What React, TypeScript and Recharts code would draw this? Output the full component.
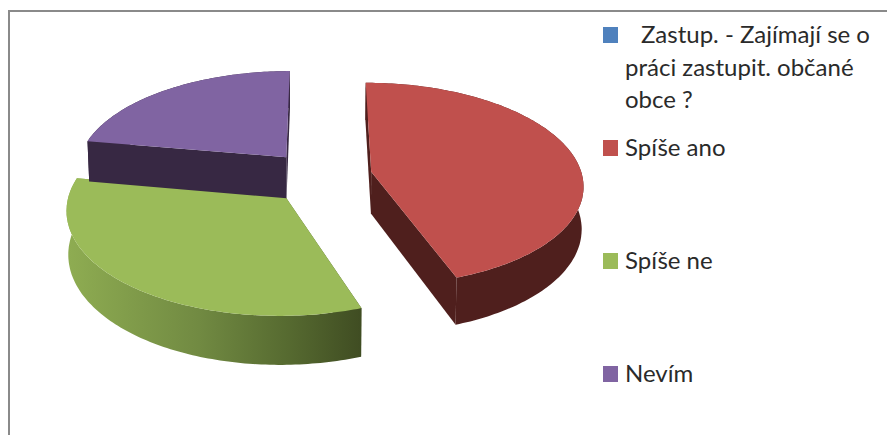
import { Legend, Pie, PieChart } from "recharts";

const categories = [
  "Zastup. - Zajímají se o práci zastupit. občané obce ?",
  "Spíše ano",
  "Spíše ne",
  "Nevím",
];
const shares = [0, 44.6, 33.1, 22.3];
const topColors = ["#4f81bd", "#c0504d", "#9bbb59", "#8064a2"];
const sideColors = ["#2a4466", "#4f1f1d", "url(#greenSide)", "#372843"];

const rows = categories.map((name, i) => ({
  name,
  value: shares[i],
  fill: topColors[i],
  side: sideColors[i],
}));

// fake 3D look: ground plane of the pie seen in perspective
const SQUASH = 0.477;
const PERSPECTIVE = 0.12;
const DEPTH = 42;
const EXPLODE = 0.25;

function project(cx: number, cy: number, r: number, px: number, pv: number, low: boolean) {
  const w = 1 - PERSPECTIVE * pv;
  const shrink = low ? 0.993 : 1;
  const x = cx + ((r * px) / w) * shrink;
  const y = cy + (r * SQUASH * pv) / w + (low ? DEPTH / w : 0);
  return `${x.toFixed(1)},${y.toFixed(1)}`;
}

function Slice3D(props: any) {
  const { cx, cy, outerRadius, startAngle, endAngle, fill, side } = props;
  if (startAngle === endAngle) return null;
  const from = ((90 - startAngle) * Math.PI) / 180;
  const to = ((90 - endAngle) * Math.PI) / 180;
  const mid = (from + to) / 2;
  const ox = EXPLODE * Math.sin(mid);
  const ov = -EXPLODE * Math.cos(mid);
  const steps = Math.ceil(Math.abs(endAngle - startAngle));
  const rimAngles = Array.from({ length: steps + 1 }, (_, i) => from + ((to - from) * i) / steps);
  const pt = (px: number, pv: number, low: boolean) => project(cx, cy, outerRadius, px, pv, low);
  const rim = (low: boolean) => rimAngles.map((a) => pt(ox + Math.sin(a), ov - Math.cos(a), low));
  const topRim = rim(false);
  const lowRim = rim(true);
  const apex = pt(ox, ov, false);
  const lowApex = pt(ox, ov, true);
  const last = topRim.length - 1;
  return (
    <g>
      <linearGradient id="greenSide" gradientUnits="userSpaceOnUse" x1={65} y1={0} x2={363} y2={0}>
        <stop offset="0%" stopColor="#8fad52" />
        <stop offset="45%" stopColor="#718a42" />
        <stop offset="75%" stopColor="#566a30" />
        <stop offset="100%" stopColor="#3f4c22" />
      </linearGradient>
      <polygon points={[...topRim, ...[...lowRim].reverse()].join(" ")} fill={side} />
      <polygon points={[apex, topRim[0], lowRim[0], lowApex].join(" ")} fill={side} />
      <polygon points={[apex, topRim[last], lowRim[last], lowApex].join(" ")} fill={side} />
      <polygon points={[apex, ...topRim].join(" ")} fill={fill} />
    </g>
  );
}

function LegendBox({ payload }: any) {
  return (
    <div style={{ position: "relative", width: 887, height: 435 }}>
      {(payload || []).map((entry: any, i: number) => (
        <div key={entry.value}>
          <div
            style={{
              position: "absolute",
              left: 603,
              top: 27 + i * 113,
              width: 15,
              height: 16,
              background: entry.color,
            }}
          />
          <div
            style={{
              position: "absolute",
              left: 625,
              top: 18 + i * 113,
              width: 258,
              fontFamily: "Lato",
              fontSize: 24,
              lineHeight: "32.5px",
              color: "#2a2a2a",
              textIndent: i === 0 ? 16 : 0,
            }}
          >
            {entry.value}
          </div>
        </div>
      ))}
    </div>
  );
}

export default function App() {
  return (
    <div style={{ position: "absolute", left: 0, top: 0, width: 887, height: 435, overflow: "hidden", background: "#fff" }}>
      <div
        style={{
          position: "absolute",
          left: 8,
          top: 10,
          width: 900,
          height: 500,
          borderLeft: "2px solid #8a8a8a",
          borderTop: "2px solid #8a8a8a",
        }}
      />
      <PieChart width={887} height={435} margin={{ top: 0, right: 0, bottom: 0, left: 0 }}>
        <Pie
          data={rows}
          dataKey="value"
          nameKey="name"
          cx={319.5}
          cy={176}
          innerRadius={0}
          outerRadius={211}
          startAngle={90}
          endAngle={-270}
          shape={Slice3D}
          isAnimationActive={false}
        />
        <Legend
          content={LegendBox}
          itemSorter={null}
          wrapperStyle={{ position: "absolute", left: 0, top: 0, width: 887, height: 435 }}
        />
      </PieChart>
    </div>
  );
}
